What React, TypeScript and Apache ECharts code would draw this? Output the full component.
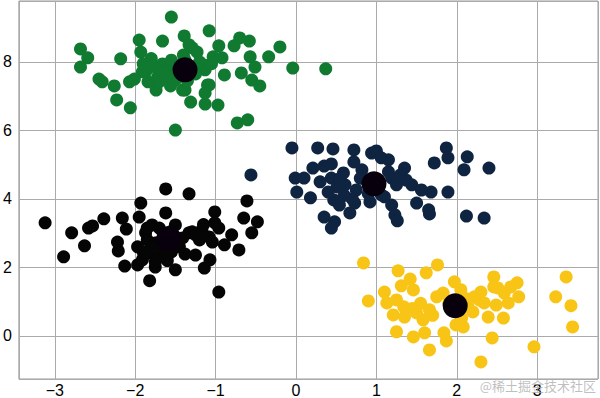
import React, { useEffect, useRef } from "react";
import * as echarts from "echarts";

// Cluster points [x, y]
const greenPoints: number[][] = [
  [-1.55, 9.31], [-2.68, 8.38], [-2.59, 8.12], [-2.68, 7.85], [-1.95, 8.64], [-1.93, 8.29],
  [-1.66, 8.61], [-1.39, 8.76], [-1.08, 8.91], [-2.18, 8.09], [-2.45, 7.5], [-2.41, 7.42],
  [-2.26, 7.3], [-2.23, 6.89], [-2.06, 6.66], [-2.07, 7.42], [-2.01, 7.5], [-1.82, 7.97],
  [-1.87, 7.71], [-1.84, 7.42], [-1.74, 7.18], [-1.66, 7.94], [-1.6, 7.77], [-1.56, 7.3],
  [-1.38, 7.18], [-1.31, 6.83], [-1.5, 6.01], [-1.38, 8.06], [-1.23, 8.29], [-1.2, 7.85],
  [-1.13, 7.77], [-1.1, 7.33], [-1.13, 7.09], [-1.13, 6.77], [-0.97, 6.74], [-0.96, 8.47],
  [-1.03, 8.15], [-0.92, 8.12], [-0.89, 7.62], [-0.77, 8.47], [-0.7, 8.7], [-0.58, 8.61],
  [-0.57, 8.15], [-0.51, 7.85], [-0.68, 7.68], [-0.55, 7.47], [-0.45, 7.3], [-0.34, 8.15],
  [-0.2, 8.44], [-0.04, 7.82], [-0.73, 6.22], [-0.6, 6.31], [0.37, 7.8], [-1.7, 7.42],
  [-1.33, 8.5], [-1.29, 8.41], [-1.41, 7.18], [-1.91, 7.71], [-1.72, 7.56], [-1.5, 7.47],
  [-1.14, 7.91], [-1.45, 7.9], [-1.5, 7.6], [-1.62, 7.6], [-1.75, 7.85], [-1.25, 7.65],
  [-1.2, 8.0], [-1.55, 8.05], [-1.8, 8.1], [-1.05, 7.95], [-1.35, 7.45], [-1.65, 7.7],
  [-1.9, 7.95], [-1.4, 8.2], [-1.08, 7.33],
];

const blackPoints: number[][] = [
  [-3.12, 3.3], [-2.79, 3.01], [-2.89, 2.31], [-2.63, 2.63], [-2.58, 3.15], [-2.53, 3.21],
  [-2.39, 3.42], [-2.16, 3.44], [-2.11, 3.12], [-2.22, 2.74], [-2.21, 2.48], [-2.13, 2.04],
  [-1.97, 2.07], [-1.95, 3.47], [-1.93, 3.88], [-1.82, 1.61], [-1.62, 4.29], [-1.33, 4.15],
  [-0.61, 3.94], [-1.62, 3.59], [-1.5, 3.24], [-1.5, 1.93], [-1.38, 2.39], [-1.25, 2.36],
  [-1.14, 1.98], [-1.07, 2.22], [-1.01, 3.62], [-0.96, 1.28], [-0.89, 2.66], [-0.71, 2.51],
  [-0.65, 3.44], [-0.55, 3.01], [-0.48, 3.33], [-1.87, 3.01], [-1.75, 2.71], [-1.62, 2.89],
  [-1.82, 2.42], [-1.7, 2.31], [-1.58, 2.6], [-1.5, 2.8], [-1.97, 2.6], [-1.91, 2.22],
  [-1.75, 2.01], [-1.66, 2.51], [-1.29, 3.04], [-1.17, 3.09], [-1.08, 2.89], [-0.96, 3.15],
  [-1.01, 3.3], [-1.2, 2.8], [-1.04, 2.74], [-1.33, 3.01], [-1.41, 2.86], [-1.79, 3.24],
  [-1.85, 2.8], [-1.55, 3.05], [-1.7, 3.15], [-1.45, 2.6], [-1.25, 2.95], [-0.8, 2.95],
  [-1.15, 3.25], [-1.7, 2.74], [-1.75, 2.16], [-1.8, 2.6], [-1.65, 2.95], [-1.55, 2.45],
  [-1.9, 2.45], [-1.6, 2.2], [-1.85, 3.15],
];

const navyPoints: number[][] = [
  [-0.56, 4.7], [-0.05, 5.49], [0.27, 5.49], [0.46, 5.46], [0.72, 5.43], [0.94, 5.34],
  [1.0, 5.4], [1.06, 5.2], [1.15, 5.14], [1.87, 5.49], [1.89, 5.2], [1.72, 5.05],
  [2.13, 5.23], [2.09, 4.85], [2.4, 4.9], [0.21, 4.9], [0.35, 4.96], [0.44, 5.02],
  [-0.01, 4.61], [0.1, 4.61], [0.01, 4.2], [0.18, 4.03], [0.44, 4.61], [0.59, 4.76],
  [0.72, 5.08], [0.82, 4.85], [0.51, 4.35], [0.61, 4.41], [0.47, 3.97], [0.54, 3.82],
  [0.67, 3.59], [0.73, 3.88], [0.75, 4.26], [0.35, 3.47], [0.48, 3.33], [0.44, 3.15],
  [0.92, 3.91], [1.1, 4.06], [1.19, 3.82], [1.23, 3.53], [1.26, 3.36], [1.19, 4.61],
  [1.25, 4.41], [1.35, 4.9], [1.37, 4.55], [1.44, 4.41], [1.5, 3.88], [1.56, 4.26],
  [1.68, 4.2], [1.65, 3.68], [1.66, 3.56], [1.89, 4.2], [2.12, 3.5], [2.34, 3.44],
  [1.15, 4.79], [1.06, 4.12], [0.6, 4.1], [0.8, 4.6], [0.3, 4.5], [0.4, 4.2],
  [0.9, 4.15], [1.3, 4.7], [0.55, 4.6], [0.7, 4.0],
];

const yellowPoints: number[][] = [
  [0.84, 2.13], [1.27, 1.9], [1.62, 1.84], [1.76, 2.07], [1.42, 1.66], [0.9, 1.02],
  [1.1, 1.28], [1.31, 1.46], [1.46, 1.34], [1.13, 0.96], [1.25, 1.05], [1.34, 0.85],
  [1.21, 0.61], [1.35, 0.55], [1.5, 0.67], [1.58, 0.47], [1.66, 0.76], [1.75, 1.14],
  [1.83, 1.25], [1.97, 1.58], [1.25, 0.12], [1.46, -0.03], [1.6, 0.09], [1.84, 0.09],
  [1.87, -0.15], [1.66, -0.41], [1.99, 0.32], [2.06, 0.52], [2.46, 1.72], [2.75, 1.55],
  [2.59, 1.25], [2.77, 1.14], [2.3, 1.28], [2.34, 0.96], [2.49, 0.9], [2.64, 0.96],
  [2.39, 0.55], [2.58, 0.52], [2.08, 0.26], [2.44, -0.06], [2.96, -0.32], [2.3, -0.76],
  [3.36, 1.72], [3.23, 1.14], [3.42, 0.88], [3.44, 0.26], [2.22, 1.14], [2.46, 1.43],
  [2.67, 1.43], [2.14, 0.85], [2.28, 1.05], [2.51, 1.4], [1.9, 0.95], [2.1, 1.1],
  [1.55, 0.95], [1.7, 0.6], [2.2, 0.7], [1.45, 0.8], [2.05, 1.35],
];

const centers: number[][] = [
  [-1.38, 7.77], [-1.58, 2.84], [0.97, 4.44], [1.98, 0.88],
];

const xTicks = [-3, -2, -1, 0, 1, 2, 3];
const yTicks = [0, 2, 4, 6, 8];

const fmt = (v: number) => String(v).replace("-", "\u2212");

export default function App() {
  const ref = useRef<HTMLDivElement>(null);
  useEffect(() => {
    if (!ref.current) return;
    const chart = echarts.init(ref.current, undefined, { renderer: "svg" });
    const labelStyle = {
      fontFamily: "Liberation Sans",
      fontSize: 16,
      color: "#000",
    };
    chart.setOption({
      animation: false,
      backgroundColor: "#fff",
      grid: {
        left: 16,
        right: 2,
        top: 1,
        bottom: 19,
        show: true,
        borderColor: "#9a9a9a",
        borderWidth: 1,
        backgroundColor: "#fff",
      },
      xAxis: {
        type: "value",
        min: -3.446,
        max: 3.756,
        splitNumber: 7,
        axisLine: { show: false },
        axisTick: { show: false },
        axisLabel: {
          ...labelStyle,
          margin: 3,
          showMinLabel: false,
          showMaxLabel: false,
          formatter: (v: number) => (xTicks.includes(Math.round(v * 1000) / 1000) ? fmt(v) : ""),
        },
        splitLine: { show: true, lineStyle: { color: "#aaaaaa", width: 1 } },
      },
      yAxis: {
        type: "value",
        min: -1.26,
        max: 9.78,
        splitNumber: 5,
        axisLine: { show: false },
        axisTick: { show: false },
        axisLabel: {
          ...labelStyle,
          margin: 7,
          showMinLabel: false,
          showMaxLabel: false,
          formatter: (v: number) => (yTicks.includes(Math.round(v * 1000) / 1000) ? fmt(v) : ""),
        },
        splitLine: { show: true, lineStyle: { color: "#aaaaaa", width: 1 } },
      },
      series: [
        { type: "scatter", data: greenPoints, symbolSize: 13, itemStyle: { color: "#107a30", opacity: 1 } },
        { type: "scatter", data: blackPoints, symbolSize: 13, itemStyle: { color: "#050505", opacity: 1 } },
        { type: "scatter", data: navyPoints, symbolSize: 13, itemStyle: { color: "#0f2441", opacity: 1 } },
        { type: "scatter", data: yellowPoints, symbolSize: 13, itemStyle: { color: "#f8c516", opacity: 1 } },
        { type: "scatter", data: centers, symbolSize: 25, z: 5, itemStyle: { color: "#08000c", opacity: 1 } },
      ],
      graphic: [
        {
          type: "text",
          right: 4,
          top: 379,
          z: 100,
          style: {
            text: "@稀土掘金技术社区",
            fontFamily: "Noto Sans CJK SC",
            fontSize: 13,
            fill: "rgba(170,170,170,0.75)",
          },
        },
      ],
    });
    return () => chart.dispose();
  }, []);
  return (
    <div
      ref={ref}
      style={{ position: "fixed", left: 0, top: 0, width: 600, height: 398 }}
    />
  );
}
